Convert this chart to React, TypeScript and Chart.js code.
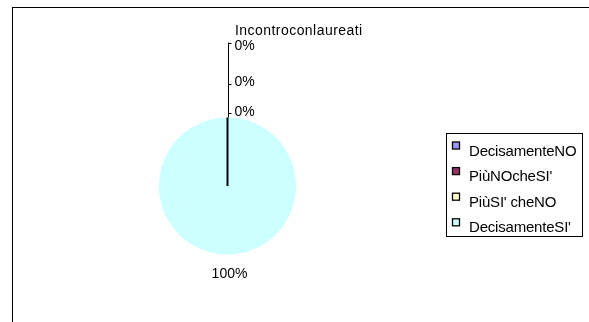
import React, { useEffect, useRef } from "react";
import { Chart, registerables } from "chart.js";

Chart.register(...registerables);

const title = "Incontroconlaureati";
const categories = ["DecisamenteNO", "PiùNOcheSI'", "PiùSI' cheNO", "DecisamenteSI'"];
const values = [0, 0, 0, 100];
const pctLabels = ["0%", "0%", "0%", "100%"];
const colors = ["#9999FF", "#993366", "#FFFFCC", "#CCFFFF"];

const FONT = "Arial, 'Liberation Sans', sans-serif";

const decorPlugin = {
  id: "decor",
  beforeDraw(chart: any) {
    const ctx = chart.ctx;
    ctx.save();
    ctx.fillStyle = "#ffffff";
    ctx.fillRect(0, 0, chart.width, chart.height);
    ctx.strokeStyle = "#000000";
    ctx.lineWidth = 1;
    ctx.strokeRect(12.5, 7.5, 700, 400);
    ctx.restore();
  },
  afterDraw(chart: any) {
    const ctx = chart.ctx;
    const meta = chart.getDatasetMeta(0);
    const big = meta.data[3];
    const cx = big.x;
    const cy = big.y;
    const r = big.outerRadius;
    const a = big.startAngle;
    const tx = cx + r * Math.cos(a);
    const ty = cy + r * Math.sin(a);
    ctx.save();
    // radius line
    ctx.strokeStyle = "#000";
    ctx.lineWidth = 2;
    ctx.beginPath();
    ctx.moveTo(cx, cy);
    ctx.lineTo(tx, ty);
    ctx.stroke();
    // leader line for the zero slices
    ctx.lineWidth = 1;
    const lx = Math.round(tx) + 0.5;
    const tickYs = [ty - 75, ty - 34, ty - 5];
    ctx.beginPath();
    ctx.moveTo(lx, ty);
    ctx.lineTo(lx, tickYs[0]);
    ctx.stroke();
    ctx.beginPath();
    for (const y of tickYs) {
      ctx.moveTo(lx, Math.round(y) + 0.5);
      ctx.lineTo(lx + 3, Math.round(y) + 0.5);
    }
    ctx.stroke();
    // zero labels
    ctx.fillStyle = "#000";
    ctx.font = `14px ${FONT}`;
    ctx.textBaseline = "middle";
    ctx.textAlign = "left";
    const labYs = [ty - 71, ty - 35, ty - 5];
    for (let i = 0; i < 3; i++) {
      ctx.fillText(pctLabels[i], lx + 6, labYs[i]);
    }
    // 100% label
    ctx.textAlign = "center";
    ctx.fillText(pctLabels[3], cx + 2, cy + r + 20);
    // title
    ctx.textAlign = "left";
    (ctx as any).letterSpacing = "0.45px";
    ctx.font = `14px ${FONT}`;
    ctx.fillText(title, 235, 31);
    // legend
    const bx = 446.5, by = 133.5, bw = 136, bh = 103;
    ctx.lineWidth = 1;
    ctx.strokeRect(bx, by, bw, bh);
    ctx.font = `15px ${FONT}`;
    (ctx as any).letterSpacing = "-0.2px";
    for (let i = 0; i < categories.length; i++) {
      const yc = 151.5 + i * 25.6;
      ctx.fillStyle = colors[i];
      ctx.fillRect(452.5, yc - 9.5, 7, 7);
      ctx.strokeStyle = "#000";
      ctx.lineWidth = 1.3;
      ctx.strokeRect(452.5, yc - 9.5, 7, 7);
      ctx.fillStyle = "#000";
      ctx.fillText(categories[i], 469, yc);
    }
    ctx.restore();
  },
};

export default function App() {
  const ref = useRef<HTMLCanvasElement | null>(null);
  useEffect(() => {
    if (!ref.current) return;
    const chart = new Chart(ref.current, {
      type: "pie",
      data: {
        labels: categories,
        datasets: [
          {
            data: values,
            backgroundColor: colors,
            borderWidth: 0,
          },
        ],
      },
      options: {
        animation: false,
        responsive: false,
        maintainAspectRatio: false,
        layout: { padding: { left: 159, right: 293, top: 117, bottom: 67 } },
        plugins: {
          legend: { display: false },
          tooltip: { enabled: false },
          title: { display: false },
        },
      },
      plugins: [decorPlugin],
    } as any);
    return () => chart.destroy();
  }, []);
  return (
    <div style={{ position: "absolute", left: 0, top: 0, width: 589, height: 322 }}>
      <canvas ref={ref} width={589} height={322} style={{ display: "block" }} />
    </div>
  );
}
